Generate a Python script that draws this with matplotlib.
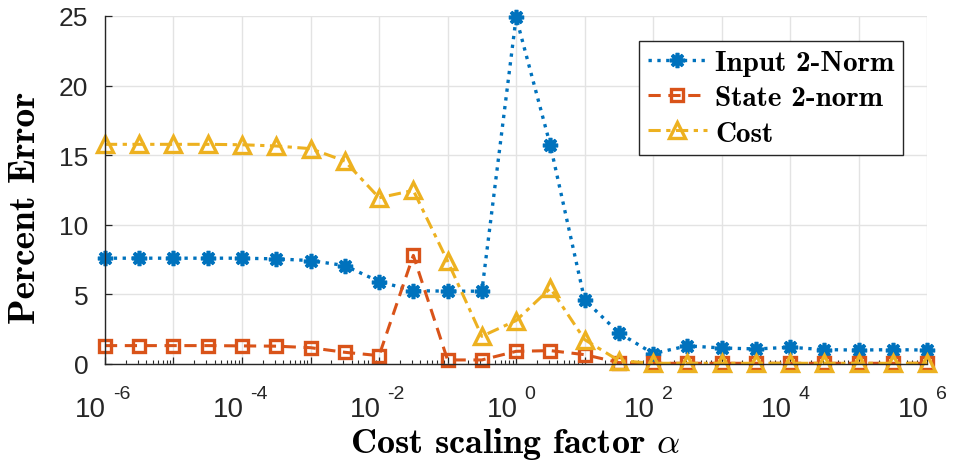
import matplotlib
matplotlib.use("Agg")
import matplotlib.pyplot as plt
from matplotlib.ticker import FixedLocator, NullFormatter

plt.rcParams['font.family'] = ['Liberation Sans', 'DejaVu Sans']
plt.rcParams['mathtext.fontset'] = 'cm'

# log10 of the cost scaling factor, half-decade sweep
alpha_exp = [-6.0, -5.5, -5.0, -4.5, -4.0, -3.5, -3.0, -2.5, -2.0, -1.5, -1.0, -0.5,
             0.0, 0.5, 1.0, 1.5, 2.0, 2.5, 3.0, 3.5, 4.0, 4.5, 5.0, 5.5, 6.0]

input_norm = [7.6, 7.6, 7.6, 7.6, 7.6, 7.55, 7.43, 7.07, 5.92, 5.27, 5.23, 5.23,
              24.9, 15.7, 4.6, 2.23, 0.75, 1.3, 1.15, 1.08, 1.2, 1.03, 1.0, 1.03, 1.0]
state_norm = [1.32, 1.32, 1.32, 1.32, 1.3, 1.28, 1.17, 0.84, 0.6, 7.8, 0.29, 0.29,
              0.91, 0.96, 0.67, 0.1, 0.05, 0.05, 0.05, 0.05, 0.05, 0.05, 0.05, 0.05, 0.05]
cost = [15.78, 15.78, 15.78, 15.78, 15.75, 15.66, 15.47, 14.58, 11.94, 12.47, 7.39, 1.99,
        3.12, 5.44, 1.75, 0.24, 0.05, 0.05, 0.05, 0.05, 0.05, 0.05, 0.05, 0.05, 0.05]

decade_exp = [-6, -5, -4, -3, -2, -1, 0, 1, 2, 3, 4, 5, 6]
xtick_exp = [-6, -4, -2, 0, 2, 4, 6]
yticks = [0, 5, 10, 15, 20, 25]

alpha = [10 ** e for e in alpha_exp]

blue = '#0072BD'
orange = '#D95319'
yellow = '#EDB120'
axis_gray = '#262626'
label_font = ['cmb10', 'DejaVu Serif']

fig = plt.figure(figsize=(9.54, 4.64), dpi=100)
ax = fig.add_axes([0.110, 0.2134, 0.862, 0.750])

ax.plot(alpha, input_norm, color=blue, linestyle=':', linewidth=2.4,
        marker=(8, 2, 0), markersize=11, markeredgewidth=2.6,
        clip_on=False, label='Input 2-Norm')
ax.plot(alpha, state_norm, color=orange, linestyle=(0, (4, 2.5)), linewidth=2.2,
        marker='s', markersize=8.5, markerfacecolor='none', markeredgewidth=2.4,
        clip_on=False, label='State 2-norm')
ax.plot(alpha, cost, color=yellow, linestyle=(0, (4, 1.8, 1.4, 1.8)), linewidth=2.2,
        marker='^', markersize=12, markerfacecolor='none', markeredgewidth=2.4,
        clip_on=False, label='Cost')

ax.set_xscale('log')
ax.set_xlim(1e-6, 1e6)
ax.set_ylim(0, 25)

# ticks on every decade, labels drawn by hand on every second one
decades = [10.0 ** e for e in decade_exp]
ax.xaxis.set_major_locator(FixedLocator(decades))
ax.xaxis.set_major_formatter(NullFormatter())
minor = [m * d for d in decades[:-1] for m in range(2, 10)]
ax.xaxis.set_minor_locator(FixedLocator(minor))
ax.xaxis.set_minor_formatter(NullFormatter())
ax.set_yticks(yticks)

xform = ax.get_xaxis_transform()
for e in xtick_exp:
    ax.annotate('10', xy=(10.0 ** e, 0), xycoords=xform, xytext=(1, -37.5),
                textcoords='offset points', ha='right', va='baseline',
                fontsize=20, color=axis_gray, annotation_clip=False)
    ax.annotate('-%d' % abs(e) if e < 0 else '%d' % e, xy=(10.0 ** e, 0),
                xycoords=xform, xytext=(6, -24.5), textcoords='offset points',
                ha='left', va='baseline', fontsize=14, color=axis_gray,
                annotation_clip=False)

ax.grid(True, which='major', color='#e3e3e3', linewidth=1.0)
ax.set_axisbelow(True)
for side in ('top', 'right'):
    ax.spines[side].set_visible(False)
for side in ('left', 'bottom'):
    ax.spines[side].set_color(axis_gray)
    ax.spines[side].set_linewidth(1.0)

ax.tick_params(axis='both', which='major', direction='in', length=5, width=0.9,
               colors=axis_gray, labelsize=19)
ax.tick_params(axis='x', which='minor', direction='in', length=3, width=0.8,
               colors=axis_gray)
ax.tick_params(axis='y', which='major', pad=12)

ax.set_xlabel(r'Cost scaling factor $\alpha$', fontsize=26, family=label_font,
              va='top')
ax.xaxis.set_label_coords(0.4994, -0.174)
ax.set_ylabel('Percent Error', fontsize=27, family=label_font)
ax.yaxis.set_label_coords(-0.077, 0.451)

leg = ax.legend(loc='upper right', bbox_to_anchor=(0.971, 0.928), borderaxespad=0,
                prop={'family': label_font, 'size': 21}, fancybox=False, framealpha=1,
                edgecolor=axis_gray, handlelength=2.0, handletextpad=0.3,
                borderpad=0.3, labelspacing=0.3, numpoints=1)
leg.get_frame().set_linewidth(1.0)

fig.savefig('out.png', dpi=100)
